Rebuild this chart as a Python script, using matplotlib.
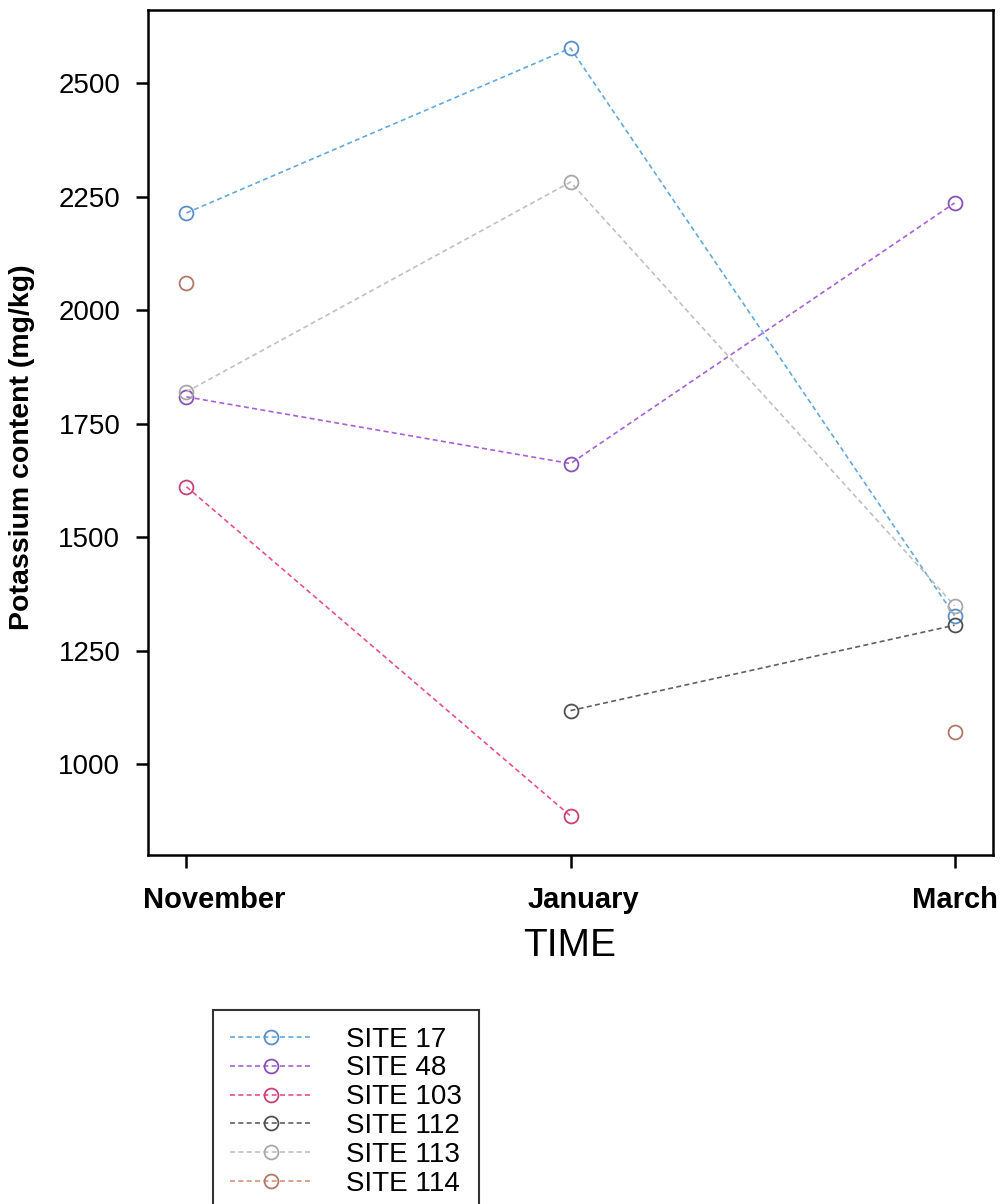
import numpy as np
import matplotlib
matplotlib.use("Agg")
import matplotlib.pyplot as plt
from matplotlib.transforms import ScaledTranslation

plt.rcParams['font.family'] = ['Liberation Sans', 'DejaVu Sans']

months = ['November', 'January', 'March']
sites = ['SITE 17', 'SITE 48', 'SITE 103', 'SITE 112', 'SITE 113', 'SITE 114']

site_17 = [2214, 2577, 1327]
site_48 = [1809, 1662, 2236]
site_103 = [1611, 886, np.nan]
site_112 = [np.nan, 1118, 1306]
site_113 = [1820, 2282, 1349]
site_114 = [2060, np.nan, 1070]

series = [site_17, site_48, site_103, site_112, site_113, site_114]
line_colors = ['#64a8e0', '#a860d8', '#e8508a', '#606060', '#c0c0c0', '#d89478']
marker_colors = ['#5a8ec8', '#8a50b8', '#c8407a', '#505050', '#a8a8a8', '#b07868']

fig = plt.figure(figsize=(10.03, 12.04), dpi=100)
ax = fig.add_axes([0.1476, 0.2899, 0.8424, 0.7018])

x = np.arange(len(months))
for name, vals, lc, mc in zip(sites, series, line_colors, marker_colors):
    ax.plot(x, vals, linestyle=(0, (3, 2)), linewidth=1.2, color=lc,
            marker='o', markersize=10, markerfacecolor='none',
            markeredgecolor=mc, markeredgewidth=1.3, label=name)

ax.set_xlim(-0.10, 2.10)
ax.set_ylim(800, 2661)
ax.set_xticks(x)
ax.set_xticklabels(months, fontsize=21, fontweight='bold')
ax.set_yticks([1000, 1250, 1500, 1750, 2000, 2250, 2500])
ax.tick_params(axis='y', labelsize=20, length=9, width=1.8, pad=11)
ax.tick_params(axis='x', length=9, width=1.8, pad=13)
for s in ax.spines.values():
    s.set_linewidth(1.8)

# the original labels sit a bit right of their ticks
shifts_px = [28, 13, 0]
for lab, dx in zip(ax.get_xticklabels(), shifts_px):
    lab.set_transform(lab.get_transform() + ScaledTranslation(dx / 100, 0, fig.dpi_scale_trans))

fig.text(22 / 1003, 1 - 447 / 1204, 'Potassium content (mg/kg)', rotation=90,
         ha='center', va='center', fontsize=20.5, fontweight='bold')
fig.text(570 / 1003, 1 - 946 / 1204, 'TIME', ha='center', va='center', fontsize=28)

leg = fig.legend(loc='upper left', bbox_to_anchor=(213 / 1003, 1 - 1010 / 1204),
                 borderaxespad=0, fontsize=20, handlelength=3, labelspacing=0.1,
                 handletextpad=1.2, borderpad=0.6, fancybox=False, framealpha=1,
                 edgecolor='#333333')
leg.get_frame().set_linewidth(1.5)

fig.savefig('out.png', dpi=100)
